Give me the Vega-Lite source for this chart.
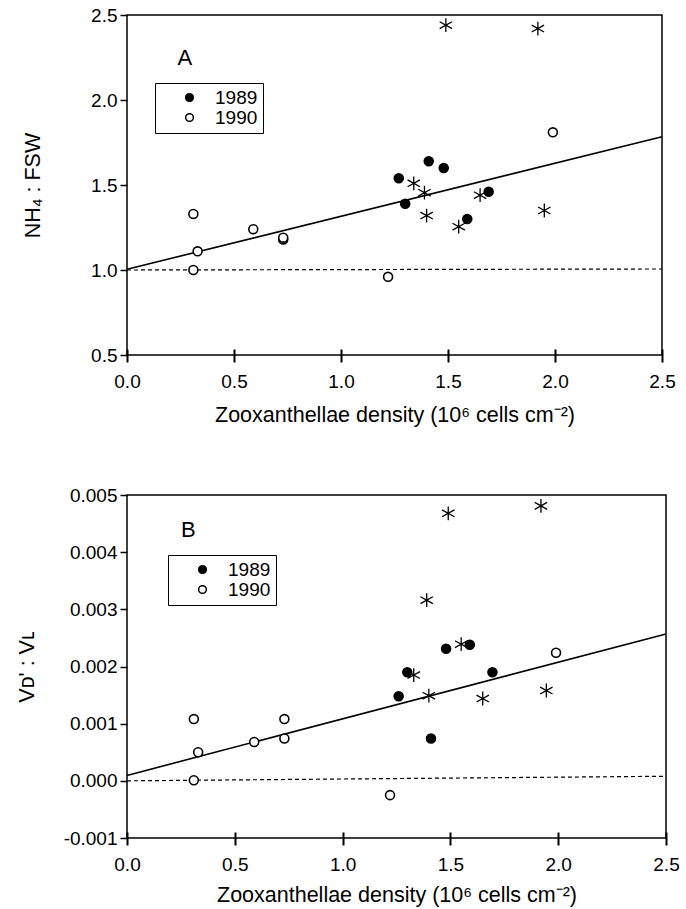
{
  "$schema": "https://vega.github.io/schema/vega-lite/v6.json",
  "padding": {"left": 15, "top": 5, "right": 6, "bottom": 1},
  "background": "white",
  "config": {
    "font": "Liberation Sans",
    "view": {"stroke": "black", "strokeWidth": 1.5},
    "axis": {
      "domain": false, "grid": false,
      "labelFontSize": 19, "titleFontSize": 21.5, "titleFontWeight": "normal", "labelFlush": false,
      "labelColor": "black", "titleColor": "black"
    }
  },
  "datasets": {
    "circA": [
      {"x": 1.27, "y": 1.54, "year": "1989"}, {"x": 1.30, "y": 1.39, "year": "1989"},
      {"x": 1.41, "y": 1.64, "year": "1989"}, {"x": 1.48, "y": 1.60, "year": "1989"},
      {"x": 1.59, "y": 1.30, "year": "1989"}, {"x": 1.69, "y": 1.46, "year": "1989"},
      {"x": 0.31, "y": 1.33, "year": "1990"}, {"x": 0.33, "y": 1.11, "year": "1990"},
      {"x": 0.31, "y": 1.00, "year": "1990"}, {"x": 0.59, "y": 1.24, "year": "1990"},
      {"x": 0.73, "y": 1.18, "year": "1990"}, {"x": 0.73, "y": 1.19, "year": "1990"},
      {"x": 1.22, "y": 0.96, "year": "1990"}, {"x": 1.99, "y": 1.81, "year": "1990"}
    ],
    "starA": [
      {"x": 1.49, "y": 2.44}, {"x": 1.92, "y": 2.42}, {"x": 1.34, "y": 1.51},
      {"x": 1.39, "y": 1.455}, {"x": 1.40, "y": 1.32}, {"x": 1.55, "y": 1.255},
      {"x": 1.65, "y": 1.44}, {"x": 1.95, "y": 1.35}
    ],
    "fitA": [{"x": 0, "y": 1.004}, {"x": 2.5, "y": 1.784}],
    "refA": [{"x": 0, "y": 1.0}, {"x": 2.5, "y": 1.006}],
    "labA": [{"x": 0.27, "y": 2.25, "t": "A"}],
    "circB": [
      {"x": 1.26, "y": 0.00148, "year": "1989"}, {"x": 1.30, "y": 0.00190, "year": "1989"},
      {"x": 1.41, "y": 0.00074, "year": "1989"}, {"x": 1.48, "y": 0.00231, "year": "1989"},
      {"x": 1.59, "y": 0.00238, "year": "1989"}, {"x": 1.695, "y": 0.00190, "year": "1989"},
      {"x": 0.31, "y": 0.00108, "year": "1990"}, {"x": 0.33, "y": 0.00050, "year": "1990"},
      {"x": 0.31, "y": 0.00001, "year": "1990"}, {"x": 0.59, "y": 0.00068, "year": "1990"},
      {"x": 0.73, "y": 0.00108, "year": "1990"}, {"x": 0.73, "y": 0.00074, "year": "1990"},
      {"x": 1.22, "y": -0.00025, "year": "1990"}, {"x": 1.99, "y": 0.00224, "year": "1990"}
    ],
    "starB": [
      {"x": 1.49, "y": 0.00468}, {"x": 1.92, "y": 0.00481}, {"x": 1.39, "y": 0.00316},
      {"x": 1.33, "y": 0.00185}, {"x": 1.40, "y": 0.00149}, {"x": 1.55, "y": 0.00239},
      {"x": 1.65, "y": 0.00144}, {"x": 1.945, "y": 0.00158}
    ],
    "fitB": [{"x": 0, "y": 0.000095}, {"x": 2.5, "y": 0.00257}],
    "refB": [{"x": 0, "y": 0.0}, {"x": 2.5, "y": 0.00008}],
    "labB": [{"x": 0.285, "y": 0.00439, "t": "B"}]
  },
  "resolve": {"scale": {"fill": "independent"}, "legend": {"fill": "independent"}},
  "spacing": 58,
  "vconcat": [
    {
      "width": 535, "height": 340,
      "encoding": {
        "x": {"field": "x", "type": "quantitative",
          "scale": {"domain": [0, 2.5], "nice": false, "zero": false},
          "axis": {"values": [0, 0.5, 1, 1.5, 2, 2.5], "format": ".1f", "ticks": true, "tickColor": "black", "tickWidth": 2, "tickSize": 13, "offset": -6,
            "labelPadding": 10, "titlePadding": 13,
            "title": "Zooxanthellae density (10⁶ cells cm⁻²)"}},
        "y": {"field": "y", "type": "quantitative",
          "scale": {"domain": [0.5, 2.5], "nice": false, "zero": false},
          "axis": {"values": [0.5, 1, 1.5, 2, 2.5], "format": ".1f", "ticks": true, "tickColor": "black", "tickWidth": 1.5, "tickSize": 7,
            "labelPadding": 3, "titlePadding": 46, "title": "NH₄ : FSW"}}
      },
      "layer": [
        {"data": {"name": "refA"}, "mark": {"type": "line", "color": "black", "strokeWidth": 1.2, "strokeDash": [4, 3]}},
        {"data": {"name": "fitA"}, "mark": {"type": "line", "color": "black", "strokeWidth": 1.6}},
        {"data": {"name": "starA"}, "mark": {"type": "point", "shape": "M0,-1L0,1M-0.9,-0.5L0.9,0.5M-0.9,0.5L0.9,-0.5", "filled": false, "stroke": "black", "strokeWidth": 1.3, "size": 190, "opacity": 1}},
        {"data": {"name": "circA"}, "mark": {"type": "point", "shape": "circle", "filled": true, "stroke": "black", "strokeWidth": 1.6, "size": 80, "opacity": 1},
          "encoding": {"fill": {"field": "year", "type": "nominal",
            "scale": {"domain": ["1989", "1990"], "range": ["black", "white"]},
            "legend": {"orient": "none", "legendX": 28, "legendY": 68, "title": null,
              "strokeColor": "black", "fillColor": "white", "padding": 5,
              "labelFontSize": 19, "labelColor": "black", "symbolType": "circle",
              "symbolStrokeColor": "black", "symbolStrokeWidth": 1.5, "symbolSize": 60,
              "symbolOffset": 20, "labelOffset": 16, "rowPadding": -2}}}},
        {"data": {"name": "labA"}, "mark": {"type": "text", "fontSize": 22, "color": "black"}, "encoding": {"text": {"field": "t"}}}
      ]
    },
    {
      "width": 539, "height": 343,
      "encoding": {
        "x": {"field": "x", "type": "quantitative",
          "scale": {"domain": [0, 2.5], "nice": false, "zero": false},
          "axis": {"values": [0, 0.5, 1, 1.5, 2, 2.5], "format": ".1f", "ticks": true, "tickColor": "black", "tickWidth": 2, "tickSize": 13, "offset": -6,
            "labelPadding": 10, "titlePadding": 10,
            "title": "Zooxanthellae density (10⁶ cells cm⁻²)"}},
        "y": {"field": "y", "type": "quantitative",
          "scale": {"domain": [-0.001, 0.005], "nice": false, "zero": false},
          "axis": {"values": [-0.001, 0, 0.001, 0.002, 0.003, 0.004, 0.005],
            "labelExpr": "replace(format(datum.value, '.3f'), '−', '-')",
            "ticks": true, "tickColor": "black", "tickWidth": 1.5, "tickSize": 7,
            "labelPadding": 3, "titlePadding": 25, "title": "Vᴅ' : Vʟ"}}
      },
      "layer": [
        {"data": {"name": "refB"}, "mark": {"type": "line", "color": "black", "strokeWidth": 1.2, "strokeDash": [4, 3]}},
        {"data": {"name": "fitB"}, "mark": {"type": "line", "color": "black", "strokeWidth": 1.6}},
        {"data": {"name": "starB"}, "mark": {"type": "point", "shape": "M0,-1L0,1M-0.9,-0.5L0.9,0.5M-0.9,0.5L0.9,-0.5", "filled": false, "stroke": "black", "strokeWidth": 1.3, "size": 190, "opacity": 1}},
        {"data": {"name": "circB"}, "mark": {"type": "point", "shape": "circle", "filled": true, "stroke": "black", "strokeWidth": 1.6, "size": 80, "opacity": 1},
          "encoding": {"fill": {"field": "year", "type": "nominal",
            "scale": {"domain": ["1989", "1990"], "range": ["black", "white"]},
            "legend": {"orient": "none", "legendX": 41, "legendY": 60, "title": null,
              "strokeColor": "black", "fillColor": "white", "padding": 5,
              "labelFontSize": 19, "labelColor": "black", "symbolType": "circle",
              "symbolStrokeColor": "black", "symbolStrokeWidth": 1.5, "symbolSize": 60,
              "symbolOffset": 20, "labelOffset": 16, "rowPadding": -2}}}},
        {"data": {"name": "labB"}, "mark": {"type": "text", "fontSize": 22, "color": "black"}, "encoding": {"text": {"field": "t"}}}
      ]
    }
  ]
}
